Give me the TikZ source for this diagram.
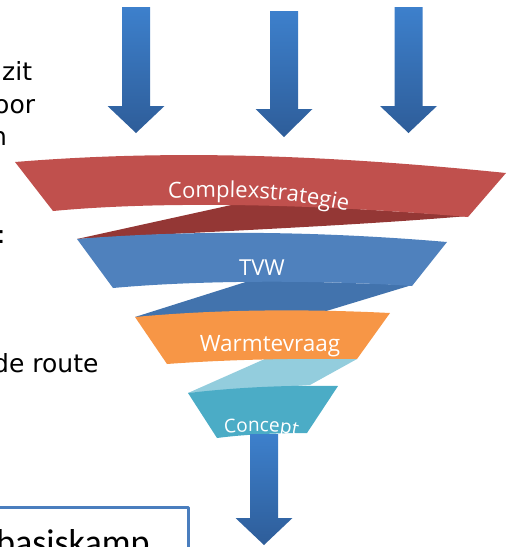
\documentclass[tikz,border=0pt]{standalone}
\usepackage{fontspec}
\setmainfont{DejaVu Sans}
\newfontfamily\bandfont{Open Sans}
\newfontfamily\boxfont{Carlito}
\usetikzlibrary{decorations.text}
\definecolor{bandred}{HTML}{C0504D}
\definecolor{twistred}{HTML}{943735}
\definecolor{bandblue}{HTML}{4F81BD}
\definecolor{twistblue}{HTML}{4273AD}
\definecolor{bandorange}{HTML}{F79646}
\definecolor{twistteal}{HTML}{93CDDD}
\definecolor{bandteal}{HTML}{4BACC6}
\definecolor{arrowtop}{HTML}{3D80CC}
\definecolor{arrowbot}{HTML}{2E5D99}
\definecolor{boxline}{HTML}{4A7EBE}
% pijl omlaag: midden x, boven, hals, punt
\newcommand{\flowarrow}[4]{%
  \shade[top color=arrowtop, bottom color=arrowbot] (#1-14,#2) -- (#1+14,#2) -- (#1+14,#3)
    -- (#1+28.5,#3) -- (#1,#4) -- (#1-28.5,#3) -- (#1-14,#3) -- cycle;}
\begin{document}
\begin{tikzpicture}[x=1pt, y=-1pt, line join=round, line cap=round]
	\tikzset{sidetext/.style={anchor=base west, inner sep=0pt, font=\fontsize{25}{30}\selectfont},
		bandtext/.style={text=white, inner sep=0pt, anchor=base, font=\bandfont\fontsize{22}{26}\selectfont}}
	\useasboundingbox (0,0) rectangle (509,547);
	\clip (0,0) rectangle (509,547);
	% tekst links (afgesneden)
	\node[sidetext] (zit) at (2,80) {zit};
	\node[sidetext] (oor) at (-6,113) {oor};
	\node[sidetext] (n) at (-9,145) {n};
	\node[sidetext] (colon) at (-3,243) {:};
	\node[sidetext] (route) at (-7,372) {de route};
	% pijlen bovenaan
	\flowarrow{136}{7}{106}{133}
	\flowarrow{284}{11}{109}{137}
	\flowarrow{408.5}{7}{106}{133}
	% trechter: eerst de gedraaide stukken, dan de banden
	\fill[twistred] (77,239) -- (245,202) -- (468,216) .. controls (350,226) and (200,232) .. (77,239) -- cycle;
	\fill[twistblue] (135,317) -- (252,280) -- (412,285) -- (323,312) -- cycle;
	\fill[twistteal] (188,393) -- (267,358) -- (357,359) -- (310,385) -- cycle;
	\fill[bandred] (15,162) .. controls (150,151) and (300,152) .. (506,173) -- (468,217)
		.. controls (330,205) and (170,200) .. (53,211) -- cycle;
	\fill[bandblue] (77,239) .. controls (200,229) and (330,232) .. (447,242) -- (412,286)
		.. controls (320,280) and (200,280) .. (113,288) -- cycle;
	\fill[bandorange] (135,317) .. controls (220,309) and (310,309) .. (390,313) -- (357,359)
		.. controls (290,358) and (220,360) .. (167,364) -- cycle;
	\fill[bandteal] (188,393) .. controls (240,387) and (290,385) .. (338,386) -- (307,433)
		.. controls (270,433) and (240,435) .. (217,438) -- cycle;
	% labels
	\path[decorate, decoration={text along path, text align=center, text color=white,
		text={|\bandfont\fontsize{22}{26}\selectfont|Complexstrategie}}]
		(162,199) .. controls (235,195) and (290,198) .. (354,212);
	\node[bandtext] (tvw) at (262,275) {TVW};
	\node[bandtext, font=\bandfont\fontsize{22.5}{26}\selectfont] (warmte) at (270,351) {Warmtevraag};
	\begin{scope}
		\clip (188,393) .. controls (240,387) and (290,385) .. (338,386) -- (307,433)
			.. controls (270,433) and (240,435) .. (217,438) -- cycle;
		\path[decorate, decoration={text along path, text align=center, text color=white,
			text={|\bandfont\fontsize{19}{23}\selectfont|Concept}}]
			(220,434) .. controls (245,431) and (275,430) .. (302,437);
	\end{scope}
	% pijl onder
	\flowarrow{264}{434}{518}{545}
	% kader basiskamp
	\node[draw=boxline, line width=2.5pt, fill=white, anchor=north west, minimum width=192pt,
		minimum height=60pt, inner sep=0pt] (kamp) at (-5,506) {};
	\node[anchor=base west, inner sep=0pt, font=\boxfont\fontsize{36}{40}\selectfont] (basis) at (-4,554) {basiskamp};
\end{tikzpicture}
\end{document}
